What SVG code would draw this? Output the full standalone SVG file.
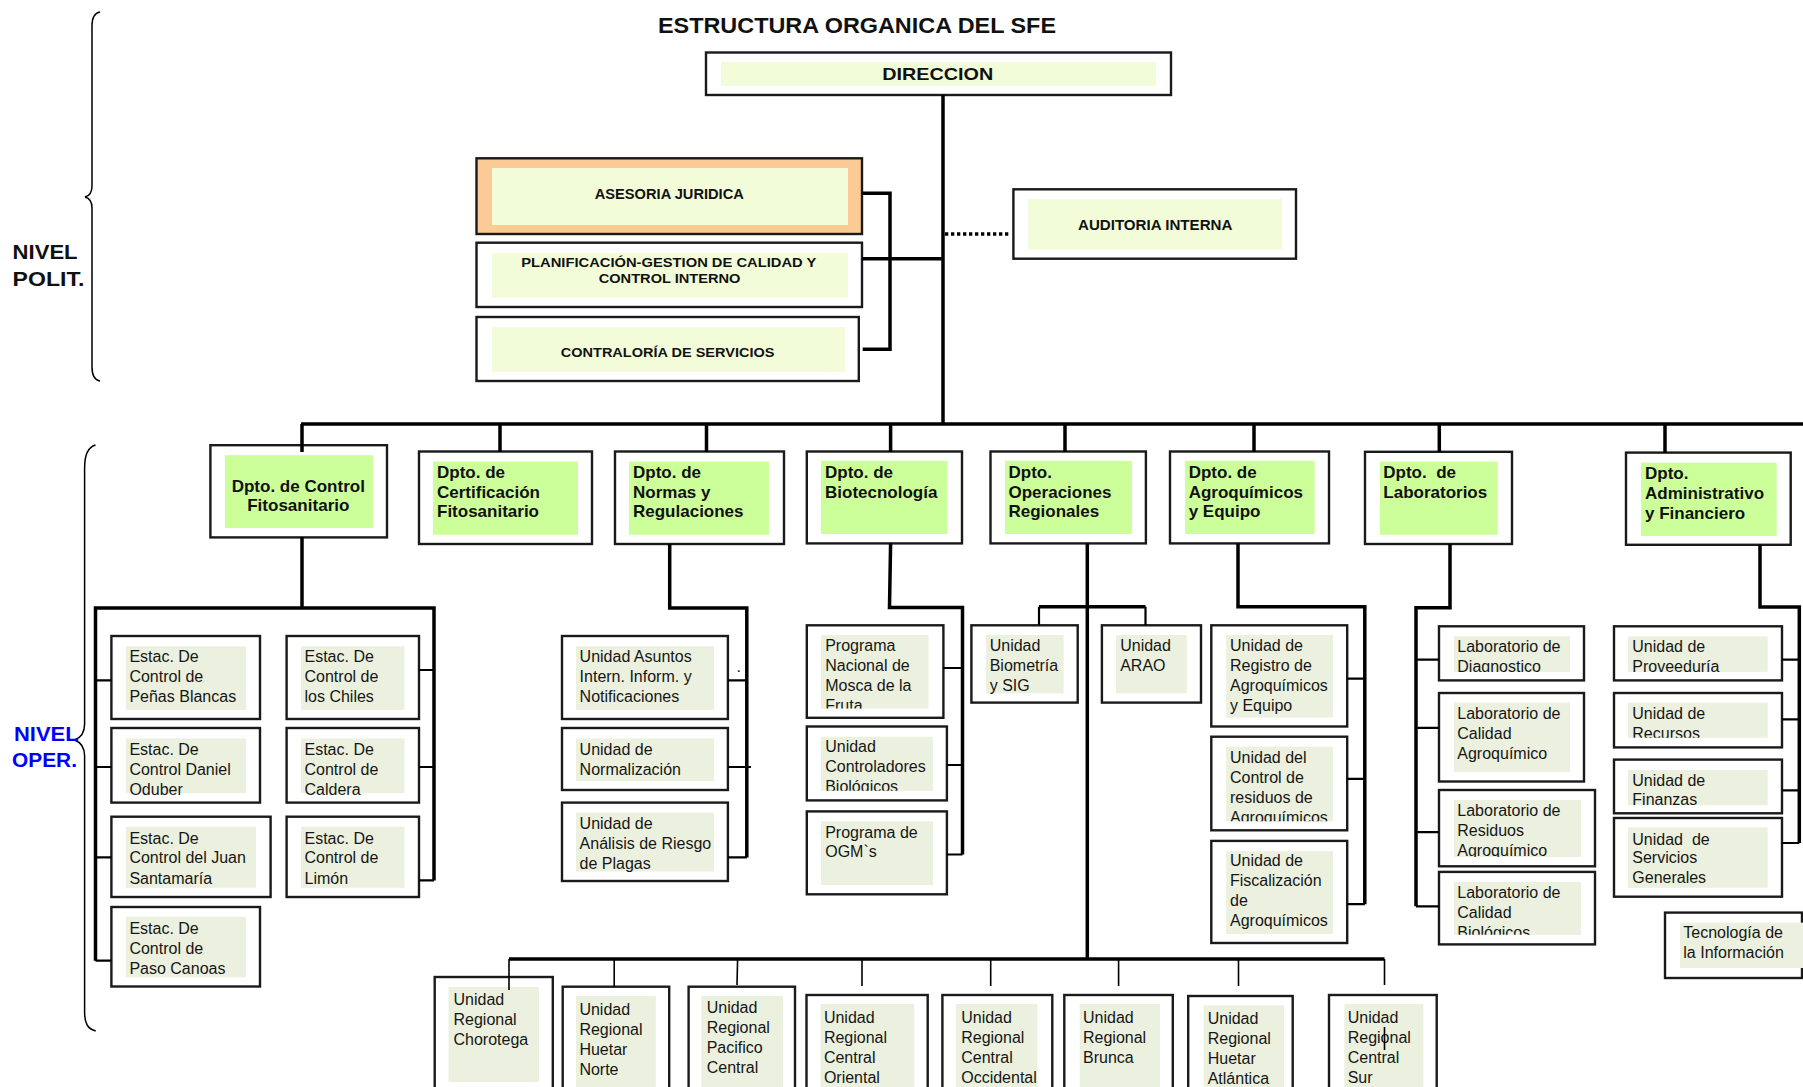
<svg xmlns="http://www.w3.org/2000/svg" width="1803" height="1087" viewBox="0 0 1803 1087">
<style>
.o{fill:#fff;stroke:#1a1a1a;stroke-width:2.4}
.oa{fill:#FCCB95;stroke:#1a1a1a;stroke-width:2.4}
.fy{fill:#F2FCD9}
.fg{fill:#CCFF99}
.fu{fill:#EBF1DE}
.t{font-family:"Liberation Sans",Arial,sans-serif;font-size:16px;fill:#161616}
.h{font-family:"Liberation Sans",Arial,sans-serif;font-weight:bold;fill:#111}
.d{font-family:"Liberation Sans",Arial,sans-serif;font-weight:bold;font-size:17px;fill:#111}
.c{fill:none;stroke:#000;stroke-width:3.5}
.s{fill:none;stroke:#000;stroke-width:2.2}
.n{fill:none;stroke:#000;stroke-width:1.6}
.br{fill:none;stroke:#000;stroke-width:1.5}
</style>
<defs>
<clipPath id="k-mosca"><rect x="821" y="635" width="107.5" height="73.6"/></clipPath>
<clipPath id="k-ctrl"><rect x="821" y="736.7" width="112" height="54.1"/></clipPath>
<clipPath id="k-resid"><rect x="1226.2" y="746.7" width="106.8" height="74.6"/></clipPath>
<clipPath id="k-diag"><rect x="1454" y="636.3" width="116" height="35.6"/></clipPath>
<clipPath id="k-resagro"><rect x="1454" y="800" width="127" height="57"/></clipPath>
<clipPath id="k-calbio"><rect x="1454" y="881.9" width="127" height="52.9"/></clipPath>
<clipPath id="k-prov"><rect x="1628" y="636.3" width="139.7" height="35.6"/></clipPath>
<clipPath id="k-rec"><rect x="1628" y="702.6" width="139.7" height="35.2"/></clipPath>
<clipPath id="k-fin"><rect x="1628" y="770" width="139.7" height="35.2"/></clipPath>
</defs>
<rect x="0" y="0" width="1803" height="1087" fill="#fff"/>

<g id="title"><text class="h" x="658" y="33" font-size="21.5" textLength="398" lengthAdjust="spacingAndGlyphs">ESTRUCTURA ORGANICA DEL SFE</text></g>

<g id="nivel-polit">
<path class="br" d="M100 12C94 13 92 18 92 26V186C92 193 89 196 85 197C89 198 92 201 92 208V367C92 375 94 380 100 381"/>
<text class="h" font-size="20" x="12.6" y="259" textLength="65" lengthAdjust="spacingAndGlyphs">NIVEL</text>
<text class="h" font-size="20" x="12.6" y="285.7" textLength="71.8" lengthAdjust="spacingAndGlyphs">POLIT.</text>
</g>

<g id="nivel-oper">
<path class="br" d="M95.5 445C88 447 84.6 455 84.6 468V724C84.6 733 80 738 74.6 740C80 742 84.6 747 84.6 756V1012C84.6 1024 88 1029 95.7 1031"/>
<text class="h" font-size="20" x="14" y="740.7" style="fill:#0000FF" textLength="64.6" lengthAdjust="spacingAndGlyphs">NIVEL</text>
<text class="h" font-size="20" x="12" y="767" style="fill:#0000FF" textLength="65" lengthAdjust="spacingAndGlyphs">OPER.</text>
</g>

<g id="direccion">
<rect class="o" x="706" y="52.5" width="465" height="42.5"/>
<rect class="fy" x="721" y="62" width="435" height="23.7"/>
<text class="h" font-size="17" x="937.8" y="80" text-anchor="middle" textLength="111" lengthAdjust="spacingAndGlyphs">DIRECCION</text>
</g>

<g id="asesoria-juridica">
<rect class="oa" x="476.5" y="158.3" width="385.5" height="75.7"/>
<rect class="fy" x="492" y="168" width="356" height="57"/>
<text class="h" font-size="14" x="669.3" y="199" text-anchor="middle" textLength="149" lengthAdjust="spacingAndGlyphs">ASESORIA JURIDICA</text>
</g>

<g id="planificacion">
<rect class="o" x="476.5" y="242.7" width="385.5" height="64.3"/>
<rect class="fy" x="492" y="253" width="356" height="44.7"/>
<text class="h" font-size="13.5" x="668.8" y="266.7" text-anchor="middle" textLength="295" lengthAdjust="spacingAndGlyphs">PLANIFICACIÓN-GESTION DE CALIDAD Y</text>
<text class="h" font-size="13.5" x="669.6" y="283.3" text-anchor="middle" textLength="141.8" lengthAdjust="spacingAndGlyphs">CONTROL INTERNO</text>
</g>

<g id="contraloria">
<rect class="o" x="476.5" y="317" width="382.3" height="64"/>
<rect class="fy" x="492" y="327" width="353" height="44.7"/>
<text class="h" font-size="13.5" x="667.6" y="357" text-anchor="middle" textLength="213.6" lengthAdjust="spacingAndGlyphs">CONTRALORÍA DE SERVICIOS</text>
</g>

<g id="auditoria">
<rect class="o" x="1013.4" y="189.3" width="282.6" height="69.4"/>
<rect class="fy" x="1028.3" y="199" width="253.7" height="50.7"/>
<text class="h" font-size="14" x="1155.2" y="230" text-anchor="middle" textLength="154.4" lengthAdjust="spacingAndGlyphs">AUDITORIA INTERNA</text>
</g>

<g id="dpto-control-fito">
<rect class="o" x="210.4" y="445.2" width="176.6" height="92.2"/>
<rect class="fg" x="224.9" y="455.2" width="148.1" height="72.8"/>
<text class="d" x="298.3" y="491.5" text-anchor="middle" textLength="133.3" lengthAdjust="spacingAndGlyphs">Dpto. de Control</text>
<text class="d" x="298.3" y="510.7" text-anchor="middle" textLength="102.3" lengthAdjust="spacingAndGlyphs">Fitosanitario</text>
</g>

<g id="dpto-certificacion">
<rect class="o" x="419" y="451.5" width="173" height="92.5"/>
<rect class="fg" x="433" y="461.5" width="145" height="73.3"/>
<text class="d"><tspan x="437" y="478">Dpto. de</tspan><tspan x="437" y="497.8">Certificación</tspan><tspan x="437" y="517">Fitosanitario</tspan></text>
</g>

<g id="dpto-normas">
<rect class="o" x="615" y="451.5" width="169" height="92.5"/>
<rect class="fg" x="629" y="461.5" width="140" height="73.3"/>
<text class="d"><tspan x="633" y="478">Dpto. de</tspan><tspan x="633" y="497.8">Normas y</tspan><tspan x="633" y="517">Regulaciones</tspan></text>
</g>

<g id="dpto-biotecnologia">
<rect class="o" x="806.8" y="451.5" width="155.2" height="91.9"/>
<rect class="fg" x="821" y="460.8" width="126.6" height="73.2"/>
<text class="d"><tspan x="825" y="478">Dpto. de</tspan><tspan x="825" y="497.8">Biotecnología</tspan></text>
</g>

<g id="dpto-operaciones">
<rect class="o" x="990.5" y="451.5" width="155.4" height="91.9"/>
<rect class="fg" x="1005" y="460.8" width="127" height="73.2"/>
<text class="d"><tspan x="1008.5" y="478">Dpto.</tspan><tspan x="1008.5" y="497.5">Operaciones</tspan><tspan x="1008.5" y="516.5">Regionales</tspan></text>
</g>

<g id="dpto-agroquimicos">
<rect class="o" x="1170" y="451.5" width="159" height="91.9"/>
<rect class="fg" x="1185" y="460.8" width="129.6" height="73.2"/>
<text class="d"><tspan x="1188.7" y="478">Dpto. de</tspan><tspan x="1188.7" y="497.5">Agroquímicos</tspan><tspan x="1188.7" y="516.5">y Equipo</tspan></text>
</g>

<g id="dpto-laboratorios">
<rect class="o" x="1365" y="451.8" width="147" height="92.2"/>
<rect class="fg" x="1380" y="461.5" width="117.7" height="73.3"/>
<text class="d" xml:space="preserve"><tspan x="1383.3" y="478">Dpto.  de</tspan><tspan x="1383.3" y="497.8">Laboratorios</tspan></text>
</g>

<g id="dpto-administrativo">
<rect class="o" x="1626" y="452.6" width="164.7" height="92.2"/>
<rect class="fg" x="1641" y="462.6" width="135.7" height="73.4"/>
<text class="d"><tspan x="1645" y="479.3">Dpto.</tspan><tspan x="1645" y="498.9">Administrativo</tspan><tspan x="1645" y="518.5">y Financiero</tspan></text>
</g>

<g id="estac-penas-blancas">
<rect class="o" x="111.4" y="636" width="148.6" height="83"/>
<rect class="fu" x="125.9" y="646.3" width="120.1" height="63.7"/>
<text class="t"><tspan x="129.4" y="662.3">Estac. De</tspan><tspan x="129.4" y="682.3">Control de</tspan><tspan x="129.4" y="702.3">Peñas Blancas</tspan></text>
</g>
<g id="estac-daniel-oduber">
<rect class="o" x="111.4" y="728" width="148.6" height="74.6"/>
<rect class="fu" x="125.9" y="738.5" width="120.1" height="54.5"/>
<text class="t"><tspan x="129.4" y="754.5">Estac. De</tspan><tspan x="129.4" y="774.5">Control Daniel</tspan><tspan x="129.4" y="794.5">Oduber</tspan></text>
</g>
<g id="estac-juan-santamaria">
<rect class="o" x="111.4" y="816.7" width="159.2" height="80.3"/>
<rect class="fu" x="125.9" y="826.7" width="130.1" height="61.1"/>
<text class="t"><tspan x="129.4" y="843.5">Estac. De</tspan><tspan x="129.4" y="863">Control del Juan</tspan><tspan x="129.4" y="883.5">Santamaría</tspan></text>
</g>
<g id="estac-paso-canoas">
<rect class="o" x="111.4" y="907" width="148.6" height="79.5"/>
<rect class="fu" x="125.9" y="916.7" width="120.1" height="60.7"/>
<text class="t"><tspan x="129.4" y="933.5">Estac. De</tspan><tspan x="129.4" y="953.5">Control de</tspan><tspan x="129.4" y="973.5">Paso Canoas</tspan></text>
</g>
<g id="estac-los-chiles">
<rect class="o" x="286.6" y="636" width="132.4" height="83"/>
<rect class="fu" x="301" y="646.3" width="103.5" height="63.7"/>
<text class="t"><tspan x="304.5" y="662.3">Estac. De</tspan><tspan x="304.5" y="682.3">Control de</tspan><tspan x="304.5" y="702.3">los Chiles</tspan></text>
</g>
<g id="estac-caldera">
<rect class="o" x="286.6" y="728" width="132.4" height="74.6"/>
<rect class="fu" x="301" y="738.5" width="103.5" height="54.5"/>
<text class="t"><tspan x="304.5" y="754.5">Estac. De</tspan><tspan x="304.5" y="774.5">Control de</tspan><tspan x="304.5" y="794.5">Caldera</tspan></text>
</g>
<g id="estac-limon">
<rect class="o" x="286.6" y="816.7" width="132.4" height="80.3"/>
<rect class="fu" x="301" y="826.7" width="103.5" height="61.1"/>
<text class="t"><tspan x="304.5" y="843.5">Estac. De</tspan><tspan x="304.5" y="863">Control de</tspan><tspan x="304.5" y="883.5">Limón</tspan></text>
</g>

<g id="unidad-asuntos">
<rect class="o" x="562" y="636" width="165.9" height="83"/>
<rect class="fu" x="576" y="646.3" width="138" height="63.7"/>
<text class="t"><tspan x="579.6" y="662.3">Unidad Asuntos</tspan><tspan x="579.6" y="682.3">Intern. Inform. y</tspan><tspan x="579.6" y="702.3">Notificaciones</tspan></text>
<text class="t" x="736.5" y="672" font-size="9">.</text>
</g>
<g id="unidad-normalizacion">
<rect class="o" x="562" y="728" width="165.9" height="62"/>
<rect class="fu" x="576" y="738.5" width="138" height="42.5"/>
<text class="t"><tspan x="579.6" y="754.5">Unidad de</tspan><tspan x="579.6" y="774.5">Normalización</tspan></text>
</g>
<g id="unidad-analisis-riesgo">
<rect class="o" x="562" y="802.6" width="165.9" height="78.4"/>
<rect class="fu" x="576" y="812.6" width="138" height="58.9"/>
<text class="t"><tspan x="579.6" y="828.8">Unidad de</tspan><tspan x="579.6" y="848.5">Análisis de Riesgo</tspan><tspan x="579.6" y="868.5">de Plagas</tspan></text>
</g>

<g id="programa-mosca">
<rect class="o" x="806.8" y="625.3" width="136.6" height="92.5"/>
<rect class="fu" x="821" y="635" width="107.5" height="73.6"/>
<text class="t" clip-path="url(#k-mosca)"><tspan x="825.2" y="650.5">Programa</tspan><tspan x="825.2" y="670.5">Nacional de</tspan><tspan x="825.2" y="690.5">Mosca de la</tspan><tspan x="825.2" y="710.5">Fruta</tspan></text>
</g>
<g id="unidad-controladores">
<rect class="o" x="806.8" y="726.5" width="140.1" height="73.9"/>
<rect class="fu" x="821" y="736.7" width="112" height="54.1"/>
<text class="t" clip-path="url(#k-ctrl)"><tspan x="825.2" y="752.2">Unidad</tspan><tspan x="825.2" y="772.1">Controladores</tspan><tspan x="825.2" y="792">Biológicos</tspan></text>
</g>
<g id="programa-ogm">
<rect class="o" x="806.8" y="811.4" width="140.1" height="82.9"/>
<rect class="fu" x="821" y="821.3" width="112" height="63.7"/>
<text class="t"><tspan x="825.2" y="838.1">Programa de</tspan><tspan x="825.2" y="857.3">OGM`s</tspan></text>
</g>

<g id="unidad-biometria">
<rect class="o" x="971.4" y="625.3" width="106.3" height="77.3"/>
<rect class="fu" x="985.9" y="635" width="77.7" height="58.3"/>
<text class="t"><tspan x="989.7" y="650.5">Unidad</tspan><tspan x="989.7" y="670.5">Biometría</tspan><tspan x="989.7" y="690.5">y SIG</tspan></text>
</g>
<g id="unidad-arao">
<rect class="o" x="1101.9" y="625.3" width="99.1" height="77.3"/>
<rect class="fu" x="1116" y="635" width="70.8" height="58.3"/>
<text class="t"><tspan x="1120.2" y="650.5">Unidad</tspan><tspan x="1120.2" y="670.5">ARAO</tspan></text>
</g>

<g id="unidad-registro">
<rect class="o" x="1211.3" y="625.3" width="135.9" height="101.2"/>
<rect class="fu" x="1226.2" y="635" width="106.8" height="82.5"/>
<text class="t"><tspan x="1230" y="650.5">Unidad de</tspan><tspan x="1230" y="670.5">Registro de</tspan><tspan x="1230" y="690.5">Agroquímicos</tspan><tspan x="1230" y="710.5">y Equipo</tspan></text>
</g>
<g id="unidad-residuos">
<rect class="o" x="1211.3" y="736.7" width="135.9" height="93.6"/>
<rect class="fu" x="1226.2" y="746.7" width="106.8" height="74.6"/>
<text class="t" clip-path="url(#k-resid)"><tspan x="1230" y="762.8">Unidad del</tspan><tspan x="1230" y="782.7">Control de</tspan><tspan x="1230" y="802.5">residuos de</tspan><tspan x="1230" y="822.5">Agroquímicos</tspan></text>
</g>
<g id="unidad-fiscalizacion">
<rect class="o" x="1211.3" y="840.9" width="135.9" height="102.1"/>
<rect class="fu" x="1226.2" y="851.2" width="106.8" height="82.8"/>
<text class="t"><tspan x="1230" y="866.3">Unidad de</tspan><tspan x="1230" y="885.5">Fiscalización</tspan><tspan x="1230" y="905.5">de</tspan><tspan x="1230" y="925.5">Agroquímicos</tspan></text>
</g>

<g id="lab-diagnostico">
<rect class="o" x="1439" y="626.3" width="145" height="54.1"/>
<rect class="fu" x="1454" y="636.3" width="116" height="35.6"/>
<text class="t" clip-path="url(#k-diag)"><tspan x="1457.3" y="652.3">Laboratorio de</tspan><tspan x="1457.3" y="671.8">Diagnostico</tspan></text>
</g>
<g id="lab-calidad-agroquimico">
<rect class="o" x="1439" y="693" width="145" height="88.5"/>
<rect class="fu" x="1454" y="702.6" width="116" height="69.3"/>
<text class="t"><tspan x="1457.3" y="719">Laboratorio de</tspan><tspan x="1457.3" y="739">Calidad</tspan><tspan x="1457.3" y="758.7">Agroquímico</tspan></text>
</g>
<g id="lab-residuos">
<rect class="o" x="1439" y="790" width="156" height="76.3"/>
<rect class="fu" x="1454" y="800" width="127" height="57"/>
<text class="t" clip-path="url(#k-resagro)"><tspan x="1457.3" y="816">Laboratorio de</tspan><tspan x="1457.3" y="836.4">Residuos</tspan><tspan x="1457.3" y="856.3">Agroquímico</tspan></text>
</g>
<g id="lab-calidad-biologicos">
<rect class="o" x="1439" y="871.9" width="156" height="72.5"/>
<rect class="fu" x="1454" y="881.9" width="127" height="52.9"/>
<text class="t" clip-path="url(#k-calbio)"><tspan x="1457.3" y="898.2">Laboratorio de</tspan><tspan x="1457.3" y="917.7">Calidad</tspan><tspan x="1457.3" y="937.5">Biológicos</tspan></text>
</g>

<g id="unidad-proveeduria">
<rect class="o" x="1614" y="626.3" width="168" height="54.1"/>
<rect class="fu" x="1628" y="636.3" width="139.7" height="35.6"/>
<text class="t" clip-path="url(#k-prov)"><tspan x="1632.3" y="652.3">Unidad de</tspan><tspan x="1632.3" y="671.8">Proveeduría</tspan></text>
</g>
<g id="unidad-recursos">
<rect class="o" x="1614" y="693" width="168" height="54.4"/>
<rect class="fu" x="1628" y="702.6" width="139.7" height="35.2"/>
<text class="t" clip-path="url(#k-rec)"><tspan x="1632.3" y="719">Unidad de</tspan><tspan x="1632.3" y="738.7">Recursos</tspan></text>
</g>
<g id="unidad-finanzas">
<rect class="o" x="1614" y="759.6" width="168" height="53.7"/>
<rect class="fu" x="1628" y="770" width="139.7" height="35.2"/>
<text class="t" clip-path="url(#k-fin)"><tspan x="1632.3" y="785.6">Unidad de</tspan><tspan x="1632.3" y="805.2">Finanzas</tspan></text>
</g>
<g id="unidad-servicios">
<rect class="o" x="1614" y="818" width="168" height="78.7"/>
<rect class="fu" x="1628" y="827.4" width="139.7" height="60.4"/>
<text class="t" xml:space="preserve"><tspan x="1632.3" y="844.5">Unidad  de</tspan><tspan x="1632.3" y="863.4">Servicios</tspan><tspan x="1632.3" y="883.4">Generales</tspan></text>
</g>
<g id="tecnologia">
<rect class="o" x="1665" y="912.6" width="137" height="65.4"/>
<rect class="fu" x="1680" y="922.6" width="123" height="45.4"/>
<text class="t"><tspan x="1683.3" y="938.2">Tecnología de</tspan><tspan x="1683.3" y="957.5">la Información</tspan></text>
</g>

<g id="ur-chorotega">
<rect class="o" x="434.7" y="977" width="118.1" height="123"/>
<rect class="fu" x="448.5" y="987" width="90.5" height="95"/>
<text class="t"><tspan x="453.5" y="1004.5">Unidad</tspan><tspan x="453.5" y="1024.5">Regional</tspan><tspan x="453.5" y="1044.5">Chorotega</tspan></text>
</g>
<g id="ur-huetar-norte">
<rect class="o" x="562.7" y="986.7" width="106.5" height="113"/>
<rect class="fu" x="576" y="996" width="79.8" height="104"/>
<text class="t"><tspan x="579.4" y="1014.5">Unidad</tspan><tspan x="579.4" y="1034.5">Regional</tspan><tspan x="579.4" y="1054.5">Huetar</tspan><tspan x="579.4" y="1074.5">Norte</tspan></text>
</g>
<g id="ur-pacifico-central">
<rect class="o" x="688.6" y="986.7" width="106.4" height="113"/>
<rect class="fu" x="701.3" y="996" width="81.7" height="104"/>
<text class="t"><tspan x="706.7" y="1012.5">Unidad</tspan><tspan x="706.7" y="1032.5">Regional</tspan><tspan x="706.7" y="1052.5">Pacifico</tspan><tspan x="706.7" y="1072.5">Central</tspan></text>
</g>
<g id="ur-central-oriental">
<rect class="o" x="806.5" y="995" width="121.2" height="105"/>
<rect class="fu" x="820.5" y="1004" width="93.8" height="96"/>
<text class="t"><tspan x="823.9" y="1022.5">Unidad</tspan><tspan x="823.9" y="1042.5">Regional</tspan><tspan x="823.9" y="1062.5">Central</tspan><tspan x="823.9" y="1082.5">Oriental</tspan></text>
</g>
<g id="ur-central-occidental">
<rect class="o" x="942.4" y="995" width="109.9" height="105"/>
<rect class="fu" x="955.8" y="1004" width="81.7" height="96"/>
<text class="t"><tspan x="961.2" y="1022.5">Unidad</tspan><tspan x="961.2" y="1042.5">Regional</tspan><tspan x="961.2" y="1062.5">Central</tspan><tspan x="961.2" y="1082.5">Occidental</tspan></text>
</g>
<g id="ur-brunca">
<rect class="o" x="1064.3" y="995" width="108.5" height="105"/>
<rect class="fu" x="1079.7" y="1004" width="80.3" height="96"/>
<text class="t"><tspan x="1083" y="1022.5">Unidad</tspan><tspan x="1083" y="1042.5">Regional</tspan><tspan x="1083" y="1062.5">Brunca</tspan></text>
</g>
<g id="ur-huetar-atlantica">
<rect class="o" x="1188.2" y="996" width="104.5" height="104"/>
<rect class="fu" x="1203.6" y="1005.3" width="80.4" height="95"/>
<text class="t"><tspan x="1207.7" y="1023.5">Unidad</tspan><tspan x="1207.7" y="1043.5">Regional</tspan><tspan x="1207.7" y="1063.5">Huetar</tspan><tspan x="1207.7" y="1083.5">Atlántica</tspan></text>
</g>
<g id="ur-central-sur">
<rect class="o" x="1329" y="995" width="107.7" height="105"/>
<rect class="fu" x="1344.3" y="1004" width="79.1" height="96"/>
<text class="t"><tspan x="1347.7" y="1022.5">Unidad</tspan><tspan x="1347.7" y="1042.5">Regional</tspan><tspan x="1347.7" y="1062.5">Central</tspan><tspan x="1347.7" y="1082.5">Sur</tspan></text>
</g>

<g id="connectors">
<path class="c" d="M943 95V424"/>
<path class="c" d="M862 193.3H890V349.3H862.7"/>
<path class="c" d="M862 258.7H943"/>
<path class="c" d="M945 234H1011" stroke-dasharray="3.3 2.7"/>
<path class="c" d="M301 424H1803"/>
<path class="c" d="M302 424V452M500 424V452M706.5 424V452M890.6 424V452M1065 424V452M1254 424V452M1439.3 424V452M1665 424V453"/>
<path class="c" d="M302 537V608"/>
<path class="c" d="M95.5 960.7V608H434V880.4"/>
<path class="s" d="M95.5 680.4H111.4M95.5 767H111.4M95.5 857.4H111.4M95.5 960.7H111.4M419 670H434M419 767H434M419 880.4H434"/>
<path class="c" d="M669.7 544V608H746.8V857.4"/>
<path class="s" d="M727.9 680.4H746.8M727.9 767H751M727.9 857.4H746.8"/>
<path class="c" d="M890.6 543.4L889.5 607.4H962.5V854.5"/>
<path class="s" d="M943.4 668H962.5M946.9 765H962.5M946.9 854.5H962.5"/>
<path class="c" d="M1087.3 543.4V959"/>
<path class="c" d="M1039 606.7H1145.5"/>
<path class="s" d="M1039 606.7V625.3M1145.5 606.7V625.3"/>
<path class="c" d="M1238 543.4V606.7H1364.8V904.2"/>
<path class="s" d="M1347.2 678.7H1364.8M1347.2 778.9H1364.8M1347.2 904.2H1364.8"/>
<path class="c" d="M1450 544V607.8H1416V906.3"/>
<path class="s" d="M1416 659.6H1439M1416 727.8H1439M1416 832.2H1439M1416 906.3H1439"/>
<path class="c" d="M1760 544.8V607H1799.3V843"/>
<path class="s" d="M1782 659.6H1799.3M1782 719.3H1799.3M1782 790.4H1799.3M1782 843H1799.3"/>
<path class="c" d="M509 959H1384.5"/>
<path class="n" d="M509 959V990M614.2 959V986.7M737.6 959L737 985M862 959V986M990.7 959V986M1118.6 959V986M1238.5 959V986M1384.5 959V985M1384.5 1027V1050"/>
</g>
</svg>
